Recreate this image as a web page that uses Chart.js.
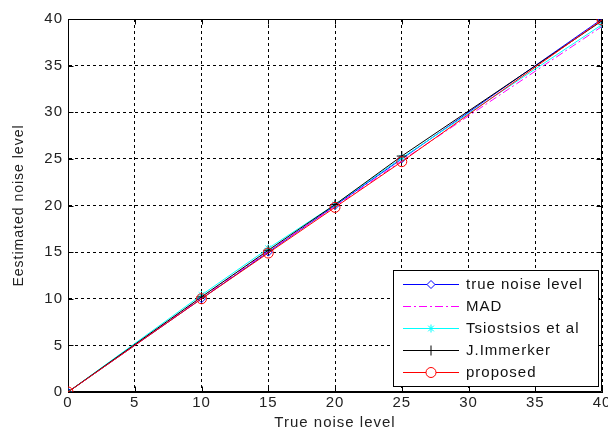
<!DOCTYPE html>
<html>
<head>
<meta charset="utf-8">
<script src="https://cdn.jsdelivr.net/npm/chart.js@4/dist/chart.umd.min.js"></script>
<style>
html,body{margin:0;padding:0;background:#fff;overflow:hidden;}
#wrap{position:relative;width:608px;height:432px;}
</style>
</head>
<body>
<div id="wrap"><canvas id="c" width="608" height="432"></canvas></div>
<script>
const trueLevels = [0, 10, 15, 20, 25, 40];
const trueNoise  = [0, 10, 15, 20, 25, 40];
const madEst     = [0, 10.1, 15.1, 19.9, 24.8, 39.2];
const tsiostsios = [0, 10.4, 15.4, 20.1, 25.1, 39.4];
const immerker   = [0, 10.2, 15.2, 20.1, 25.3, 39.8];
const proposed   = [0, 10.0, 14.9, 19.8, 24.7, 39.9];
const seriesNames = ['true noise level', 'MAD', 'Tsiostsios et al', 'J.Immerker', 'proposed'];
const xTicks = [0, 5, 10, 15, 20, 25, 30, 35, 40];
const yTicks = [0, 5, 10, 15, 20, 25, 30, 35, 40];

const FONT = 'Liberation Sans, Arial, sans-serif';
const pts = vals => trueLevels.map((x, i) => ({x: x, y: vals[i]}));

const styles = [
  {color: '#0000ff', pointStyle: 'rectRot', radius: 4, dash: [], order: 5},
  {color: '#ff00ff', pointStyle: false, radius: 0, dash: [8, 3, 2, 3], order: 4},
  {color: '#00ffff', pointStyle: 'star', radius: 4, dash: [], order: 3},
  {color: '#000000', pointStyle: 'cross', radius: 5, dash: [], order: 2},
  {color: '#ff0000', pointStyle: 'circle', radius: 5, dash: [], order: 1}
];
const allVals = [trueNoise, madEst, tsiostsios, immerker, proposed];

const datasets = allVals.map((v, i) => ({
  label: seriesNames[i],
  data: pts(v),
  borderColor: styles[i].color,
  backgroundColor: 'rgba(0,0,0,0)',
  borderWidth: 1,
  borderDash: styles[i].dash,
  pointStyle: styles[i].pointStyle,
  pointRadius: styles[i].radius,
  pointBorderColor: styles[i].color,
  pointBackgroundColor: 'rgba(0,0,0,0)',
  pointBorderWidth: 1,
  pointHoverRadius: styles[i].radius,
  tension: 0,
  fill: false,
  order: styles[i].order
}));

const spacing = {
  id: 'spacing',
  beforeLayout(chart) { chart.ctx.letterSpacing = '1px'; },
  beforeDraw(chart) { chart.ctx.letterSpacing = '1px'; }
};

const legendPlugin = {
  id: 'matLegend',
  afterDraw(chart) {
    const ctx = chart.ctx;
    const x0 = 393, y0 = 270, w = 205, h = 116;
    ctx.save();
    ctx.letterSpacing = '1px';
    ctx.fillStyle = '#fff';
    ctx.fillRect(x0, y0, w, h);
    ctx.strokeStyle = '#000';
    ctx.lineWidth = 1;
    ctx.setLineDash([]);
    ctx.strokeRect(x0 + 0.5, y0 + 0.5, w, h);
    const rows = [284, 306, 328, 350, 372];
    ctx.font = '15px ' + FONT;
    ctx.textBaseline = 'middle';
    ctx.textAlign = 'left';
    seriesNames.forEach((name, i) => {
      const s = styles[i];
      const y = rows[i] + 0.5;
      ctx.strokeStyle = s.color;
      ctx.lineWidth = 1;
      ctx.setLineDash(s.dash);
      ctx.beginPath();
      ctx.moveTo(403, y);
      ctx.lineTo(459, y);
      ctx.stroke();
      ctx.setLineDash([]);
      if (s.pointStyle) {
        ctx.fillStyle = '#fff';
        Chart.helpers.drawPoint(ctx, {pointStyle: s.pointStyle, radius: s.radius, rotation: 0, borderWidth: 1}, 431, y);
      }
      ctx.fillStyle = '#111';
      ctx.fillText(name, 466, rows[i] + 1);
    });
    ctx.restore();
  }
};

const innerTicks = {
  id: 'innerTicks',
  beforeDatasetsDraw(chart) {
    const ctx = chart.ctx, a = chart.chartArea;
    const xs = chart.scales.x, ys = chart.scales.y;
    ctx.save();
    ctx.strokeStyle = '#000';
    ctx.lineWidth = 1;
    ctx.setLineDash([]);
    ctx.beginPath();
    const L = Math.round(a.left) + 0.5, R = Math.round(a.right) - 0.5;
    const T = Math.round(a.top) + 0.5, B = Math.round(a.bottom) - 0.5;
    ctx.rect(L, T, R - L, B - T);
    xTicks.forEach(t => {
      const px = Math.round(xs.getPixelForValue(t)) + 0.5;
      ctx.moveTo(px, B); ctx.lineTo(px, B - 5);
      ctx.moveTo(px, T); ctx.lineTo(px, T + 5);
    });
    yTicks.forEach(t => {
      const py = Math.round(ys.getPixelForValue(t)) + 0.5;
      ctx.moveTo(L, py); ctx.lineTo(L + 5, py);
      ctx.moveTo(R, py); ctx.lineTo(R - 5, py);
    });
    ctx.stroke();
    ctx.restore();
  }
};

new Chart(document.getElementById('c'), {
  type: 'line',
  data: {datasets: datasets},
  options: {
    responsive: false,
    animation: false,
    devicePixelRatio: 1,
    layout: {padding: {left: 0, right: 2, top: 19, bottom: 0}},
    plugins: {legend: {display: false}, tooltip: {enabled: false}},
    scales: {
      x: {
        type: 'linear', min: 0, max: 40,
        afterBuildTicks(s) { s.ticks = xTicks.map(v => ({value: v})); },
        afterFit(s) { s.height = 40; s.paddingLeft = 0; s.paddingRight = 0; },
        grid: {color: '#000', lineWidth: 1, drawTicks: false, tickLength: 0},
        border: {display: true, color: '#000', width: 1, dash: [3, 3]},
        ticks: {color: '#222', font: {family: FONT, size: 15}, padding: 2, maxRotation: 0, autoSkip: false},
        title: {display: true, text: 'True noise level', color: '#222', font: {family: FONT, size: 15}, padding: {top: 2, bottom: 0}}
      },
      y: {
        type: 'linear', min: 0, max: 40,
        afterBuildTicks(s) { s.ticks = yTicks.map(v => ({value: v})); },
        afterFit(s) { s.width = 68; s.paddingTop = 0; s.paddingBottom = 0; },
        grid: {color: '#000', lineWidth: 1, drawTicks: false, tickLength: 0},
        border: {display: true, color: '#000', width: 1, dash: [3, 3]},
        ticks: {color: '#222', font: {family: FONT, size: 15}, padding: 5, autoSkip: false},
        title: {display: true, text: 'Eestimated noise level', color: '#222', font: {family: FONT, size: 14}, padding: {top: 11, bottom: 0}}
      }
    }
  },
  plugins: [spacing, innerTicks, legendPlugin]
});
</script>
</body>
</html>
